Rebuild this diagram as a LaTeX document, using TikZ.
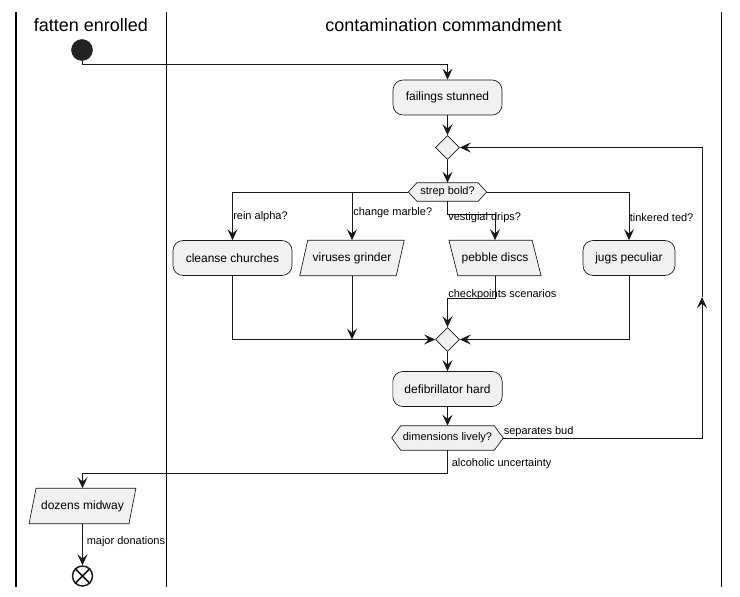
\documentclass[tikz,border=0pt]{standalone}
\usepackage{fontspec}
\setmainfont{Liberation Sans}
\usetikzlibrary{arrows.meta,shapes.geometric,calc,backgrounds}
\definecolor{ln}{HTML}{181818}
\definecolor{bx}{HTML}{F1F1F1}
\definecolor{dot}{HTML}{222222}
\begin{document}
\begin{tikzpicture}[x=0.75pt,y=-0.75pt,
  line/.style={draw=ln,line width=0.75pt},
  arr/.style={line,-{Stealth[length=8.25pt,width=7.5pt,inset=3.2pt]}},
  shp/.style={draw=ln,fill=bx,line width=0.5pt},
  rbox/.style={shp,rounded corners=7.5pt,minimum height=26.25pt,inner sep=0pt,font=\fontsize{9}{11}\selectfont},
  pnode/.style={inner sep=0pt,minimum height=26.25pt,font=\fontsize{9}{11}\selectfont},
  hnode/.style={inner sep=0pt,font=\fontsize{8.25}{10}\selectfont},
  dmd/.style={diamond,shp,minimum width=18pt,minimum height=18pt,inner sep=0pt},
  lbl/.style={font=\fontsize{8.25}{10}\selectfont,anchor=west,inner sep=0pt},
  ttl/.style={font=\fontsize{13.5}{16}\selectfont,inner sep=0pt},
  lane/.style={draw=black,line width=1.1pt}]
\useasboundingbox (0,0) rectangle (740,597);

% swimlanes
\draw[lane] (16,12) -- (16,587);
\draw[lane] (166.5,12) -- (166.5,587);
\draw[lane] (721.5,12) -- (721.5,587);
\node[ttl] (t1) at (91,25) {fatten enrolled};
\node[ttl] (t2) at (443.5,25) {contamination commandment};

% nodes
\node[circle,fill=dot,draw=dot,minimum size=15.75pt,inner sep=0pt] (st) at (82,50) {};
\node[rbox,minimum width=81.75pt] (fs) at (447.5,97.5) {failings stunned};
\node[dmd] (d1) at (447.5,147.5) {};
\node[hnode,minimum width=58.3pt,minimum height=13.5pt] (sb) at (447.5,192) {strep bold?};
\node[rbox,minimum width=89.25pt] (cc) at (232.5,258) {cleanse churches};
\node[pnode,minimum width=72pt] (vg) at (352,258) {viruses grinder};
\node[pnode,minimum width=62pt] (pd) at (495,258) {pebble discs};
\node[rbox,minimum width=69pt] (jp) at (629,258) {jugs peculiar};
\node[dmd] (d2) at (447.5,339.5) {};
\node[rbox,minimum width=82pt] (df) at (447.5,389) {defibrillator hard};
\node[hnode,minimum width=83.25pt,minimum height=18pt] (dl) at (447.5,438) {dimensions lively?};
\node[pnode,minimum width=74.5pt] (dm) at (82.5,506) {dozens midway};
\node[circle,draw=ln,line width=1.1pt,minimum size=15pt,inner sep=0pt] (en) at (82.5,576) {};
\draw[ln,line width=1.1pt] (en.north west) -- (en.south east) (en.north east) -- (en.south west);

% shapes on background
\begin{scope}[on background layer]
  \draw[shp] ($(vg.north west)+(4,0)$) -- ($(vg.north east)+(4,0)$) -- ($(vg.south east)+(-4,0)$) -- ($(vg.south west)+(-4,0)$) -- cycle;
  \draw[shp] ($(pd.north west)+(-4.5,0)$) -- ($(pd.north east)+(-4.5,0)$) -- ($(pd.south east)+(4.5,0)$) -- ($(pd.south west)+(4.5,0)$) -- cycle;
  \draw[shp] ($(dm.north west)+(3.5,0)$) -- ($(dm.north east)+(3.5,0)$) -- ($(dm.south east)+(-3.5,0)$) -- ($(dm.south west)+(-3.5,0)$) -- cycle;
  \draw[shp] ($(sb.north west)+(8.5,0)$) -- ($(sb.north east)+(-8.5,0)$) -- (sb.east) -- ($(sb.south east)+(-8.5,0)$) -- ($(sb.south west)+(8.5,0)$) -- (sb.west) -- cycle;
  \draw[shp] ($(dl.north west)+(9,0)$) -- ($(dl.north east)+(-9,0)$) -- (dl.east) -- ($(dl.south east)+(-9,0)$) -- ($(dl.south west)+(9,0)$) -- (dl.west) -- cycle;
\end{scope}

% connectors
\draw[arr] (st.south) |- ($(fs.north)+(0,-15)$) -- (fs.north);
\draw[arr] (fs.south) -- (d1.north);
\draw[arr] (d1.south) -- (sb.north);
\draw[arr] (sb.west) -| (cc.north);
\draw[arr] (sb.west -| vg.north) -- (vg.north);
\draw[arr] (sb.south) |- ($(pd.north)+(0,-26)$) -- (pd.north);
\draw[arr] (sb.east) -| (jp.north);
\draw[arr] (cc.south) |- (d2.west);
\draw[arr] (vg.south) -- (vg.south |- d2.west);
\draw[arr] (pd.south) |- ($(d2.north)+(0,-29)$) -- (d2.north);
\draw[arr] (jp.south) |- (d2.east);
\draw[arr] (d2.south) -- (df.north);
\draw[arr] (df.south) -- (dl.north);
\coordinate (lp) at (702,297);
\draw[arr] (dl.east) -| (lp);
\draw[arr] (lp) |- (d1.east);
\draw[arr] (dl.south) |- ($(dm.north)+(0,-15)$) -- (dm.north);
\draw[arr] (dm.south) -- (en.north);

% labels
\node[lbl] (l1) at (233,216.7) {rein alpha?};
\node[lbl] (l2) at (353,212.7) {change marble?};
\node[lbl] (l3) at (448,218) {vestigial drips?};
\node[lbl] (l4) at (629.5,218) {tinkered ted?};
\node[lbl] (l5) at (448,295) {checkpoints scenarios};
\node[lbl] (l6) at (503.5,432) {separates bud};
\node[lbl] (l7) at (451.5,463.3) {alcoholic uncertainty};
\node[lbl] (l8) at (86.5,541.7) {major donations};
\end{tikzpicture}
\end{document}
